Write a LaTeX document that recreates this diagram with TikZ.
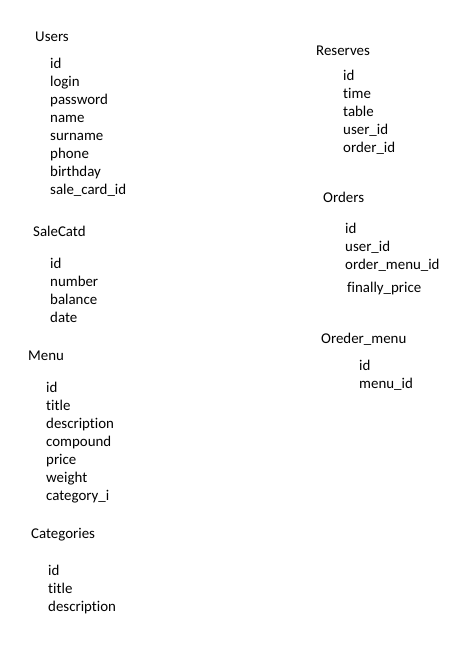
\documentclass[tikz,border=0pt]{standalone}
\usepackage{fontspec}
\setmainfont{Carlito}[Ligatures=NoCommon]
\usepackage{tikz}
\usetikzlibrary{positioning}

\newcommand{\tablefont}{\fontsize{14.9pt}{18pt}\selectfont}

\begin{document}
\begin{tikzpicture}[
    x=1pt, y=-1pt,
    tablename/.style={anchor=base west, inner sep=0pt, text=black, font=\tablefont},
    field/.style={anchor=base west, inner sep=0pt, text=black, font=\tablefont}
]
\useasboundingbox (0,0) rectangle (469,648);

% Users
\node[tablename] (users) at (35,41) {Users};
\foreach \f [count=\i] in {id,login,password,name,surname,phone,birthday,sale\_card\_id}
    \node[field] (users-\i) at (50,{68+18*(\i-1)}) {\f};

% SaleCatd
\node[tablename] (salecard) at (33,236) {SaleCatd};
\foreach \f [count=\i] in {id,number,balance,date}
    \node[field] (salecard-\i) at (50,{268+18*(\i-1)}) {\f};

% Menu
\node[tablename] (menu) at (28,360) {Menu};
\foreach \f [count=\i] in {id,title,description,compound,price,weight,category\_i}
    \node[field] (menu-\i) at (46,{392+18*(\i-1)}) {\f};

% Categories
\node[tablename] (categories) at (31,538) {Categories};
\foreach \f [count=\i] in {id,title,description}
    \node[field] (categories-\i) at (48,{575+18*(\i-1)}) {\f};

% Reserves
\node[tablename] (reserves) at (316,55) {Reserves};
\foreach \f [count=\i] in {id,time,table,user\_id,order\_id}
    \node[field] (reserves-\i) at (343,{80+18*(\i-1)}) {\f};

% Orders
\node[tablename] (orders) at (323,202) {Orders};
\foreach \f [count=\i] in {id,user\_id,order\_menu\_id}
    \node[field] (orders-\i) at (345,{233+18*(\i-1)}) {\f};
\node[field] (orders-4) at (347,292) {finally\_price};

% Oreder_menu
\node[tablename] (ordermenu) at (321,343) {Oreder\_menu};
\foreach \f [count=\i] in {id,menu\_id}
    \node[field] (ordermenu-\i) at (359,{370+18*(\i-1)}) {\f};

\end{tikzpicture}
\end{document}
